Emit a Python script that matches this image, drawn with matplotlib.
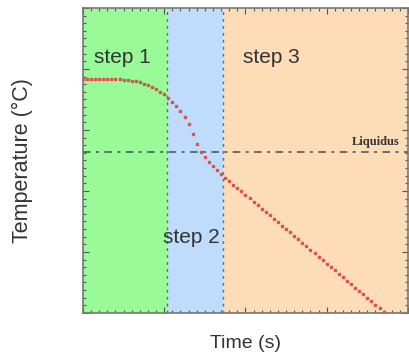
import matplotlib
matplotlib.use("Agg")
import matplotlib.pyplot as plt
from matplotlib.ticker import MultipleLocator

# data (arbitrary units)
time = [0, 1.25, 2.5, 3.75, 5, 6.25, 7.5, 8.75, 10, 11.25, 12.5, 13.75, 15, 16.25,
        17.5, 18.75, 20, 21.25, 22.5, 23.75, 25, 26.25, 27.5, 28.75, 30, 31.25,
        32.5, 33.75, 35, 36.25, 37.5, 38.75, 40, 41.25, 42.5, 43.75, 45, 46.25,
        47.5, 48.75, 50, 51.25, 52.5, 53.75, 55, 56.25, 57.5, 58.75, 60, 61.25,
        62.5, 63.75, 65, 66.25, 67.5, 68.75, 70, 71.25, 72.5, 73.75, 75, 76.25,
        77.5, 78.75, 80, 81.25, 82.5, 83.75, 85, 86.25, 87.5, 88.75, 90, 91.25, 92.5]
temperature = [76.6, 76.7, 76.7, 76.8, 76.8, 76.8, 76.8, 76.8, 76.7, 76.6, 76.5, 76.4,
               76.2, 75.9, 75.6, 75.2, 74.7, 74.1, 73.4, 72.6, 71.7, 70.6, 69.3, 67.8,
               66.1, 64.3, 62.0, 58.7, 55.5, 52.8, 51.0, 49.5, 48.2, 47.0, 45.6, 44.4,
               43.3, 42.1, 41.0, 39.9, 38.8, 37.6, 36.5, 35.4, 34.2, 33.1, 32.0, 30.9,
               29.7, 28.6, 27.5, 26.4, 25.2, 24.1, 23.0, 21.8, 20.7, 19.6, 18.5, 17.3,
               16.2, 15.1, 14.0, 12.8, 11.7, 10.6, 9.5, 8.3, 7.2, 6.1, 4.9, 3.8, 2.7,
               1.6, 0.4]
step_bounds = [0, 25.8, 43.1, 100]
step_labels = ["step 1", "step 2", "step 3"]
liquidus = 52.8

plt.rcParams['font.family'] = ['Liberation Sans', 'DejaVu Sans']

fig = plt.figure(figsize=(4.10, 3.61), dpi=100)
ax = fig.add_axes([0.2024, 0.133, 0.7926, 0.845])

colors = ["#98fb98", "#c0dcfc", "#fddcb8"]
for i in range(3):
    ax.axvspan(step_bounds[i], step_bounds[i + 1], color=colors[i], lw=0, zorder=0)
for b in step_bounds[1:3]:
    ax.axvline(b, color="#666666", ls=(0, (2, 3)), lw=1.0, zorder=1)

ax.axhline(liquidus, color="#445055", ls=(0, (5, 3.5, 2, 3.5)), lw=1.1, zorder=2)
ax.text(97.5, liquidus + 1.4, "Liquidus", fontsize=9, fontweight="bold",
        family="Liberation Serif", color="#333333", ha="right", va="bottom")

ax.plot(time, temperature, ls="none", marker="s", ms=1.9, color="#d9534f",
        mec="#d9534f", zorder=3)

ax.text(3.3, 83.9, step_labels[0], fontsize=15, color="#333333", va="center")
ax.text(24.7, 24.9, step_labels[1], fontsize=15, color="#333333", va="center")
ax.text(49.2, 83.9, step_labels[2], fontsize=15, color="#333333", va="center")

ax.set_xlim(0, 100)
ax.set_ylim(0, 100)
ax.set_xticks([0, 25, 50, 75, 100])
ax.set_yticks([0, 20, 40, 60, 80, 100])
ax.set_xticklabels([])
ax.set_yticklabels([])
ax.xaxis.set_minor_locator(MultipleLocator(2.5))
ax.yaxis.set_minor_locator(MultipleLocator(2.5))
ax.tick_params(which="both", direction="in", top=True, right=True, colors="#555555")
ax.tick_params(which="major", length=4, width=0.8)
ax.tick_params(which="minor", length=2, width=0.8)
for s in ax.spines.values():
    s.set_color("#777777")
    s.set_linewidth(1.2)

ax.set_xlabel("Time (s)", fontsize=14, color="#333333")
ax.xaxis.set_label_coords(0.5, -0.072)
ax.set_ylabel("Temperature (°C)", fontsize=15.5, color="#333333")
ax.yaxis.set_label_coords(-0.154, 0.5)

fig.savefig("out.png", dpi=100)
